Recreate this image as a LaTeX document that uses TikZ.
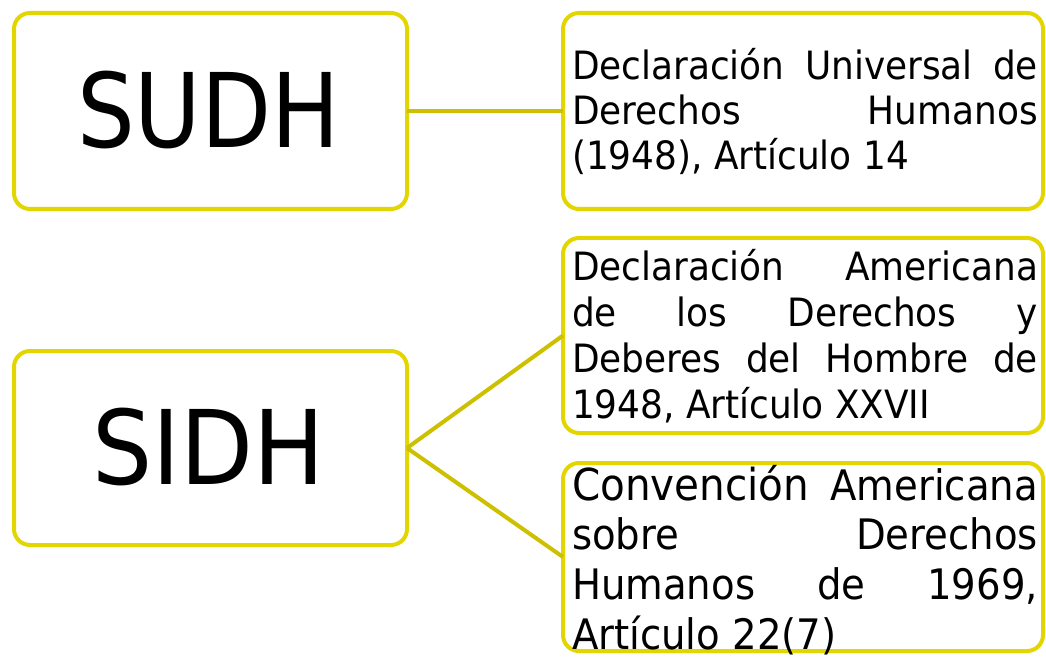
\documentclass[tikz,border=0pt]{standalone}
\usepackage{fontspec}
\usepackage{graphicx}
\setmainfont{DejaVu Sans}[FakeStretch=0.92]
\definecolor{boxyellow}{RGB}{227,214,0}
\definecolor{lineyellow}{RGB}{204,192,0}
\tikzset{
  ybox/.style={draw=boxyellow, line width=4pt, rounded corners=16pt, fill=white, inner sep=0pt, outer sep=0pt},
  conn/.style={draw=lineyellow, line width=4pt},
  txt/.style={anchor=base west, inner sep=0pt, outer sep=0pt, align=left},
  big/.style={inner sep=0pt, font=\fontsize{103}{110}\selectfont}
}
\newcommand{\jline}[1]{\hbox to 466pt{#1}}
\begin{document}
\begin{tikzpicture}[x=1pt, y=-1pt]
\useasboundingbox (0,0) rectangle (1046,660);
% left boxes
\node[ybox, minimum width=393pt, minimum height=196pt] (sudh) at (210.5,111) {};
\node[ybox, minimum width=393pt, minimum height=194pt] (sidh) at (210.5,448) {};
\node[big] (sudht) at (208.5,110) {\scalebox{0.96}[1]{SUDH}};
\node[big] (sidht) at (208.5,447) {SIDH};
% right boxes
\node[ybox, minimum width=480pt, minimum height=196pt] (b1) at (803,111) {};
\node[ybox, minimum width=480pt, minimum height=195pt] (b2) at (803,335.5) {};
\node[ybox, minimum width=480pt, minimum height=188pt] (b3) at (803,557) {};
% connectors
\draw[conn] (sudh.east) -- (b1.west);
\draw[conn] (sidh.east) -- (b2.west);
\draw[conn] (sidh.east) -- (b3.west);
% texts
\node[txt] (t1) at (572,80) {\fontsize{39}{45}\selectfont\parbox[t]{466pt}{%
\jline{Declaración\hfill Universal\hfill de}\par
\jline{Derechos\hfill Humanos}\par
\jline{(1948), Artículo 14\hfill}}};
\node[txt] (t2) at (572,280) {\fontsize{39}{46}\selectfont\parbox[t]{466pt}{%
\jline{Declaración\hfill Americana}\par
\jline{de\hfill los\hfill Derechos\hfill y}\par
\jline{Deberes\hfill del\hfill Hombre\hfill de}\par
\jline{1948, Artículo XXVII\hfill}}};
\node[txt] (t3) at (572,500) {\fontsize{42}{49.7}\selectfont\parbox[t]{466pt}{%
\jline{{\fontsize{44}{49.7}\selectfont Convención}\hfill Americana}\par
\jline{sobre\hfill Derechos}\par
\jline{Humanos\hfill de\hfill 1969,}\par
\jline{Artículo 22(7)\hfill}}};
\end{tikzpicture}
\end{document}
